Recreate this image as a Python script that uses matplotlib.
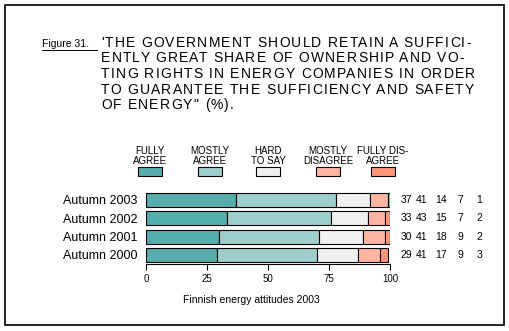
import numpy as np
import matplotlib.pyplot as plt
from matplotlib.patches import Rectangle
from matplotlib.transforms import blended_transform_factory

# data
years = ["Autumn 2000", "Autumn 2001", "Autumn 2002", "Autumn 2003"]
fully_agree = [29, 30, 33, 37]
mostly_agree = [41, 41, 43, 41]
hard_to_say = [17, 18, 15, 14]
mostly_disagree = [9, 9, 7, 7]
fully_disagree = [3, 2, 2, 1]
categories = ["FULLY\nAGREE", "MOSTLY\nAGREE", "HARD\nTO SAY", "MOSTLY\nDISAGREE", "FULLY DIS-\nAGREE"]
colors = ["#56aead", "#9ecfcc", "#f0f0f0", "#ffb5a0", "#ff9577"]
ticks = [0, 25, 50, 75, 100]

W, H = 509, 331
plt.rcParams['font.family'] = ['Liberation Sans', 'DejaVu Sans']
fig = plt.figure(figsize=(W / 100, H / 100), dpi=100)
renderer = fig.canvas.get_renderer()

def fx(px):
    return px / W

def fy(py):
    return 1 - py / H

def text_width(s, size):
    t = fig.text(0, 0, s, fontsize=size)
    w = t.get_window_extent(renderer).width
    t.remove()
    return w

def spaced_text(x0, y0, s, size, extra):
    # title is letter-spaced in the original
    for k, ch in enumerate(s):
        if ch == " ":
            continue
        pos = x0 + text_width(s[:k + 1], size) - text_width(ch, size) + k * extra
        fig.text(fx(pos), fy(y0), ch, fontsize=size, va="center", ha="left")

# frame around the figure
fig.patches.append(Rectangle((fx(5), fy(325)), fx(499), 320 / H, transform=fig.transFigure,
                             fill=False, edgecolor="black", linewidth=1.2))

# title
fig.text(fx(42), fy(44), "Figure 31.", fontsize=7.5, va="center", ha="left")
fig.add_artist(plt.Line2D([fx(42), fx(97)], [fy(50), fy(50)], color="black", lw=0.7))
title_lines = ["'THE GOVERNMENT SHOULD RETAIN A SUFFICI-",
               "ENTLY GREAT SHARE OF OWNERSHIP AND VO-",
               "TING RIGHTS IN ENERGY COMPANIES IN ORDER",
               "TO GUARANTEE THE SUFFICIENCY AND SAFETY",
               "OF ENERGY\" (%)."]
for i, line in enumerate(title_lines):
    spaced_text(101, 43 + i * 15.5, line, 10, 1.2)

# legend
leg_x = [150, 210, 268, 328, 383]
for x, lab, c in zip(leg_x, categories, colors):
    fig.text(fx(x), fy(156), lab, fontsize=7, ha="center", va="center", linespacing=1.1)
    fig.patches.append(Rectangle((fx(x - 12), fy(176)), fx(24), 9 / H, transform=fig.transFigure,
                                 facecolor=c, edgecolor="black", linewidth=0.8))

# bars
ax = fig.add_axes([fx(146), fy(264), fx(244), 73.3 / H])
series = [fully_agree, mostly_agree, hard_to_say, mostly_disagree, fully_disagree]
y = np.arange(len(years))
left = np.zeros(len(years))
for vals, c in zip(series, colors):
    ax.barh(y, vals, left=left, height=0.76, color=c, edgecolor="black", linewidth=0.8)
    left += np.array(vals)

ax.set_xlim(0, 100)
ax.set_ylim(-0.49, 3.5)
ax.set_yticks(y)
ax.set_yticklabels(years, fontsize=9)
ax.tick_params(axis="y", length=0, pad=6)
ax.set_xticks(ticks)
ax.set_xticklabels([str(t) for t in ticks], fontsize=7)
ax.tick_params(axis="x", length=4, width=0.8, pad=3)
for s in ["top", "right", "left"]:
    ax.spines[s].set_visible(False)
ax.spines["bottom"].set_linewidth(0.8)

# value columns
col_x = [412, 427, 447, 463, 482]
tr = blended_transform_factory(fig.transFigure, ax.transData)
for i in range(len(years)):
    for j, vals in enumerate(series):
        ax.text(fx(col_x[j]), i, str(vals[i]), transform=tr, fontsize=7.5, ha="right", va="center")

fig.text(fx(251), fy(300), "Finnish energy attitudes 2003", fontsize=7.5, ha="center", va="center")

fig.savefig("out.png", dpi=100)
